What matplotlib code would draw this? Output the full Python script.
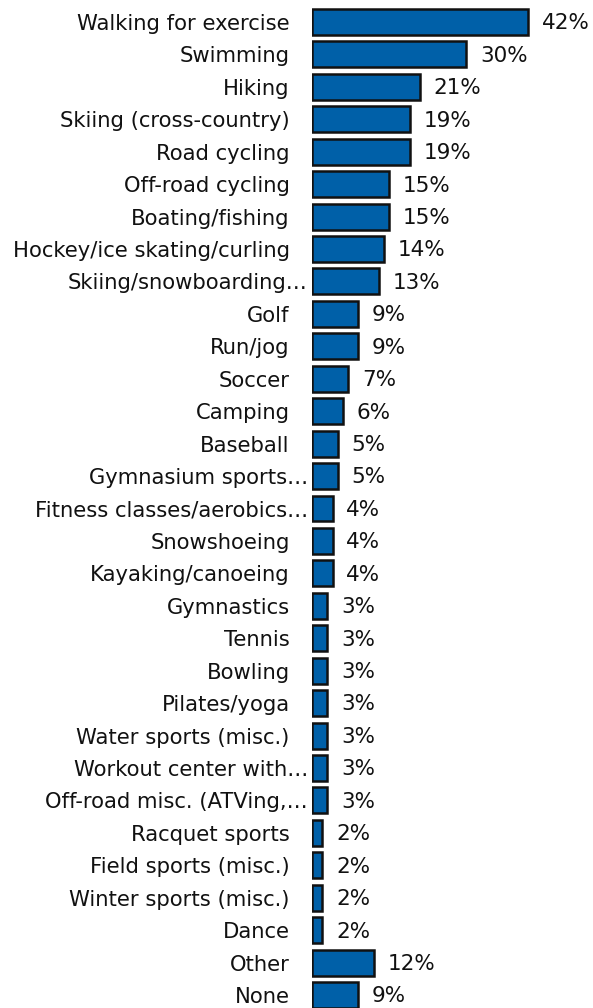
import matplotlib
matplotlib.use("Agg")
import matplotlib.pyplot as plt
from matplotlib.transforms import ScaledTranslation

categories = [
    "Walking for exercise", "Swimming", "Hiking", "Skiing (cross-country)",
    "Road cycling", "Off-road cycling", "Boating/fishing",
    "Hockey/ice skating/curling", "Skiing/snowboarding…", "Golf", "Run/jog",
    "Soccer", "Camping", "Baseball", "Gymnasium sports…",
    "Fitness classes/aerobics…", "Snowshoeing", "Kayaking/canoeing",
    "Gymnastics", "Tennis", "Bowling", "Pilates/yoga", "Water sports (misc.)",
    "Workout center with…", "Off-road misc. (ATVing,…", "Racquet sports",
    "Field sports (misc.)", "Winter sports (misc.)", "Dance", "Other", "None",
]
values = [42, 30, 21, 19, 19, 15, 15, 14, 13, 9, 9, 7, 6, 5, 5, 4, 4, 4,
          3, 3, 3, 3, 3, 3, 3, 2, 2, 2, 2, 12, 9]

W, H = 593, 1008
fig = plt.figure(figsize=(W / 100, H / 100), dpi=100)
ax = fig.add_axes([312 / W, 0, 1 - 312 / W, 1])

pos = list(range(len(categories)))
ax.barh(pos, values, height=0.8, color="#0060A8", edgecolor="#111111",
        linewidth=1.8)

px_per_unit = 5.136
ax.set_xlim(0, (W - 312) / px_per_unit)
pitch = (995 - 22) / (len(categories) - 1)
ax.set_ylim(len(categories) - 1 + (H - 995) / pitch, -22 / pitch)

ax.set_yticks(pos)
ax.set_yticklabels(categories, fontsize=15.2, color="#111111")
ax.tick_params(axis="y", length=0, pad=16)
ax.set_xticks([])
for s in ax.spines.values():
    s.set_visible(False)

# truncated labels let their ellipsis run past the usual label edge
shift = ScaledTranslation(0.18, 0, fig.dpi_scale_trans)
for lab in ax.get_yticklabels():
    if lab.get_text().endswith("…"):
        lab.set_transform(lab.get_transform() + shift)

for p, v in zip(pos, values):
    ax.annotate(f"{v}%", (v, p), xytext=(10, -1), textcoords="offset points",
                va="center", ha="left", fontsize=15.5, color="#111111")

fig.savefig("out.png", dpi=100)
